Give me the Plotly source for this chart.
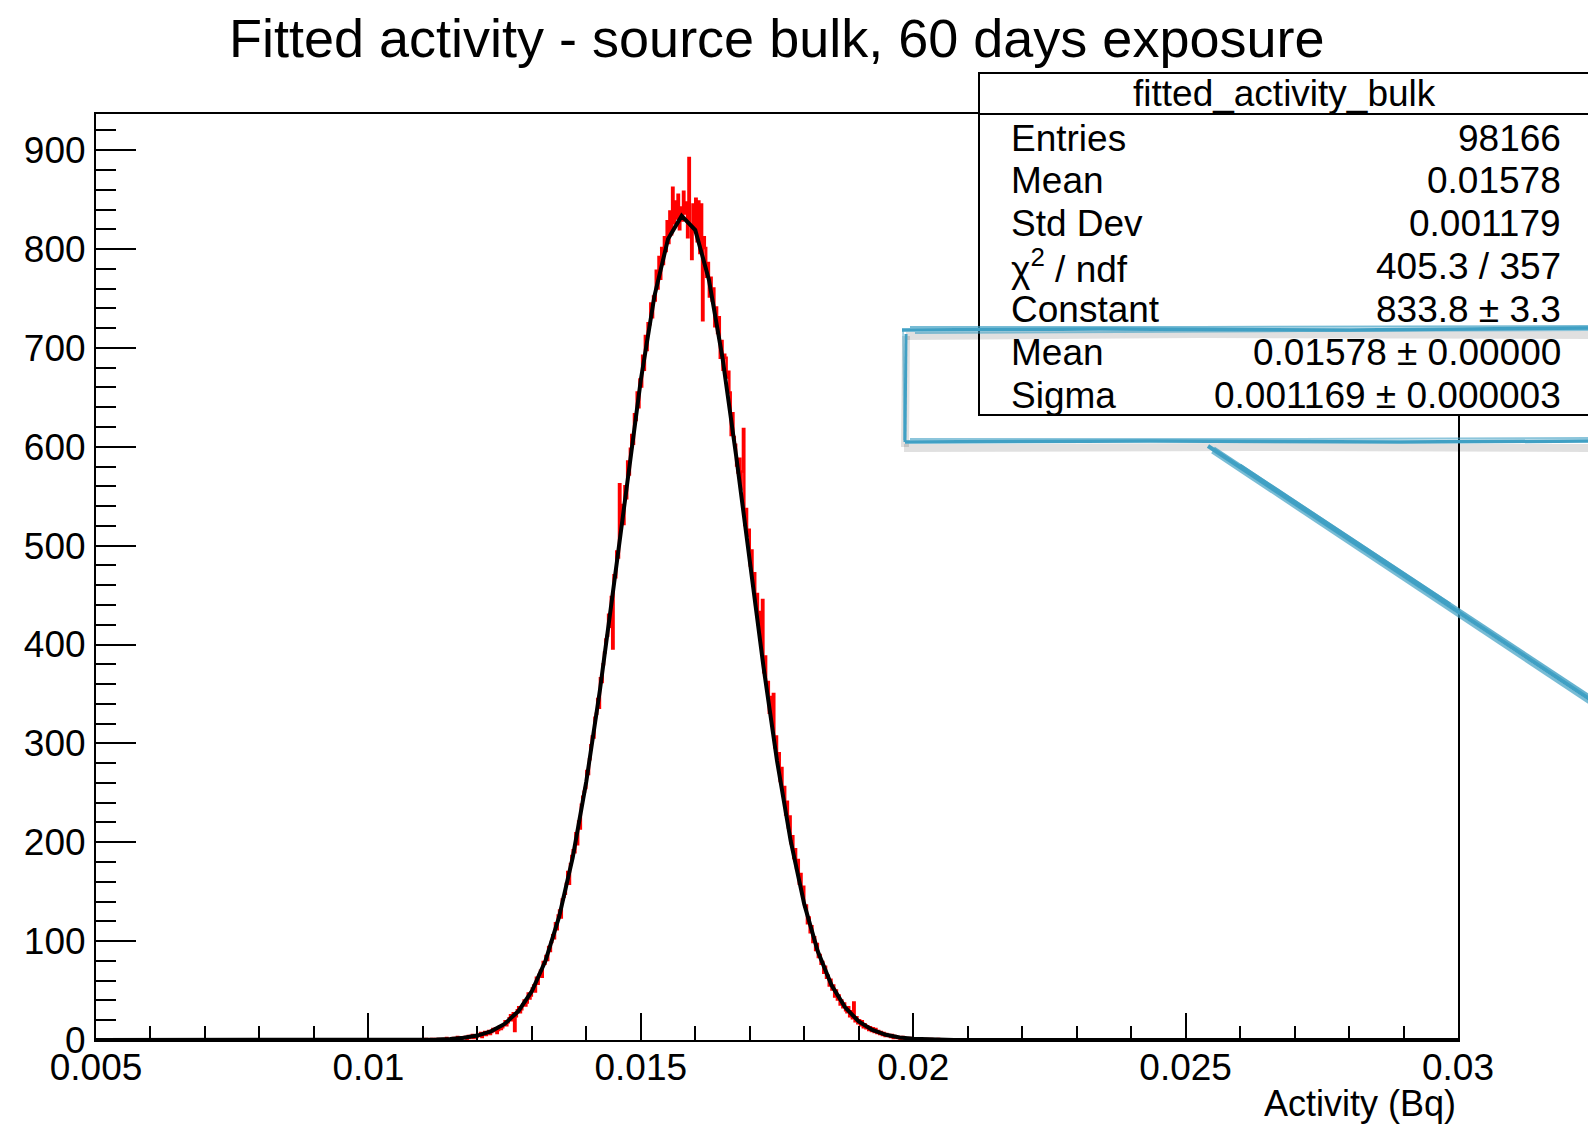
import numpy as np
import plotly.graph_objects as go

# ---- histogram definition (ROOT TH1 style: 1000 bins from 0.005 to 0.03) ----
n_bins = 1000
x_low, x_high = 0.005, 0.03
first_filled_bin = 240  # bins before this one are empty

bin_counts = [
    # bins 240-299
    0, 0, 1, 0, 0, 0, 1, 0, 0, 1,
    0, 1, 0, 0, 1, 0, 1, 2, 0, 1,
    1, 0, 2, 1, 1, 3, 0, 2, 1, 2,
    3, 2, 1, 4, 2, 3, 5, 2, 4, 3,
    5, 4, 7, 3, 6, 8, 5, 7, 9, 6,
    8, 11, 9, 12, 7, 10, 14, 11, 13, 15,
    # bins 300-339
    19, 15, 18, 22, 25, 20, 27, 9, 24, 30,
    33, 28, 31, 36, 40, 35, 38, 47, 42, 45,
    52, 55, 49, 63, 57, 66, 70, 64, 79, 77,
    85, 81, 94, 90, 99, 106, 103, 118, 112, 126,
    # bins 340-379
    131, 124, 142, 145, 148, 158, 170, 158, 178, 186,
    192, 190, 209, 198, 221, 214, 238, 246, 251, 255,
    272, 269, 284, 298, 307, 306, 326, 330, 345, 336,
    366, 362, 380, 392, 405, 409, 430, 418, 448, 396,
    # bins 380-446
    470, 468, 494, 488, 562, 517, 541, 522, 560, 548,
    585, 572, 598, 612, 603, 633, 627, 655, 640, 668,
    661, 692, 678, 712, 698, 725, 724, 745, 731, 752,
    748, 778, 760, 792, 770, 801, 785, 812, 798, 828,
    806, 838, 815, 862, 826, 848, 831, 855, 820, 842,
    829, 858, 836, 847, 812, 892, 824, 790, 845, 818,
    851, 808, 848, 796, 845, 728, 812,
    # bins 447-520
    801, 772, 786, 752, 771, 748, 760, 722, 741, 715,
    731, 690, 707, 678, 693, 690, 670, 676, 655, 612,
    634, 610, 602, 581, 574, 588, 557, 575, 618, 521,
    537, 510, 516, 480, 495, 460, 472, 440, 451, 420,
    433, 398, 445, 372, 388, 360, 362, 331, 347, 318,
    350, 296, 307, 284, 290, 262, 275, 249, 256, 228,
    241, 215, 226, 199, 206, 184, 193, 174, 182, 158,
    168, 149, 155, 135,
    # bins 521-620
    136, 118, 124, 109, 115, 99, 104, 91, 97, 84,
    86, 77, 79, 68, 74, 63, 65, 55, 61, 51,
    55, 44, 50, 41, 45, 36, 40, 33, 37, 30,
    28, 33, 24, 29, 22, 38, 19, 23, 17, 20,
    15, 19, 13, 16, 12, 14, 10, 13, 9, 12,
    8, 11, 7, 9, 6, 8, 5, 7, 4, 6,
    4, 5, 3, 5, 2, 4, 3, 2, 3, 1,
    2, 3, 1, 2, 1, 0, 2, 1, 0, 1,
    1, 0, 0, 1, 0, 1, 0, 0, 0, 1,
    0, 0, 1, 0, 0, 0, 0, 1, 0, 0,
]

# ---- gaussian fit result ----
fit_constant = 833.8
fit_mean = 0.01578
fit_sigma = 0.001169
fit_npx = 100  # ROOT's default number of points for drawing a TF1

# ---- statistics box ----
stats_title = "fitted_activity_bulk"
stats_labels = ["Entries", "Mean", "Std Dev", "χ<sup>2</sup> / ndf",
                "Constant", "Mean", "Sigma"]
stats_values = ["98166", "0.01578", "0.001179", "405.3 / 357",
                "833.8 ± 3.3", "0.01578 ± 0.00000", "0.001169 ± 0.000003"]

# ---- axes ----
x_tick_vals = [0.005, 0.01, 0.015, 0.02, 0.025, 0.03]
x_tick_text = ["0.005", "0.01", "0.015", "0.02", "0.025", "0.03"]
y_tick_vals = [0, 100, 200, 300, 400, 500, 600, 700, 800, 900]
y_tick_text = [str(v) for v in y_tick_vals]

title_text = "Fitted activity - source bulk, 60 days exposure"
x_title = "Activity (Bq)"

# ---------------------------------------------------------------------------
W, H = 1588, 1129
ML, MR, MT, MB = 96, 130, 114, 89
PW, PH = W - ML - MR, H - MT - MB
FONT = "Liberation Sans, Arial, Helvetica, sans-serif"


def px(xp):
    """pixel column -> paper x"""
    return (xp - ML) / PW


def py(yp):
    """pixel row -> paper y"""
    return (H - MB - yp) / PH


def path(points):
    return "M " + " L ".join(f"{px(a):.5f},{py(b):.5f}" for a, b in points)


counts = np.zeros(n_bins)
counts[first_filled_bin:first_filled_bin + len(bin_counts)] = bin_counts
edges = np.linspace(x_low, x_high, n_bins + 1)
step_y = np.append(counts, counts[-1])

fit_x = np.linspace(x_low, x_high, fit_npx + 1)
fit_y = fit_constant * np.exp(-0.5 * ((fit_x - fit_mean) / fit_sigma) ** 2)

y_max = 1.05 * counts.max()

fig = go.Figure()
fig.add_trace(go.Scatter(x=edges, y=step_y, mode="lines", line_shape="hv",
                         line=dict(color="#ff0000", width=2.5), hoverinfo="skip"))
fig.add_trace(go.Scatter(x=fit_x, y=fit_y, mode="lines",
                         line=dict(color="black", width=4), hoverinfo="skip"))

fig.update_xaxes(
    range=[x_low, x_high], showgrid=False, zeroline=False,
    showline=True, mirror=True, linecolor="black", linewidth=2,
    ticks="inside", ticklen=27, tickwidth=2, tickcolor="black",
    tickvals=x_tick_vals, ticktext=x_tick_text,
    tickfont=dict(family=FONT, size=37, color="black"),
    ticklabelstandoff=-6,
    minor=dict(ticks="inside", ticklen=14, tickwidth=2, tickcolor="black",
               dtick=0.001, tick0=x_low, showgrid=False),
)
fig.update_yaxes(
    range=[0, y_max], showgrid=False, zeroline=False,
    showline=True, mirror=True, linecolor="black", linewidth=2,
    ticks="inside", ticklen=40, tickwidth=2, tickcolor="black",
    tickvals=y_tick_vals, ticktext=y_tick_text,
    tickfont=dict(family=FONT, size=37, color="black"),
    ticklabelstandoff=1,
    minor=dict(ticks="inside", ticklen=20, tickwidth=2, tickcolor="black",
               dtick=20, tick0=0, showgrid=False),
)

shapes = []
# statistics box
box_l, box_t, box_r, box_b, box_sep = 979, 73, 1590, 415, 114
shapes.append(dict(type="rect", xref="paper", yref="paper",
                   x0=px(box_l), x1=px(box_r), y0=py(box_b), y1=py(box_t),
                   fillcolor="white", line=dict(color="black", width=2), layer="above"))
shapes.append(dict(type="line", xref="paper", yref="paper",
                   x0=px(box_l), x1=px(box_r), y0=py(box_sep), y1=py(box_sep),
                   line=dict(color="black", width=2), layer="above"))

# hand-drawn highlight (marker strokes with a soft drop shadow)
blue = "rgb(64,160,196)"
shadow = "rgba(0,0,0,0.12)"
shadow_strokes = [
    [(906, 336), (1200, 334), (1600, 335)],
    [(904, 448), (1250, 447), (1600, 448)],
    [(906, 336), (905, 447)],
]
for s in shadow_strokes:
    shapes.append(dict(type="path", xref="paper", yref="paper", path=path(s),
                       line=dict(color=shadow, width=8), layer="above"))
blue_strokes = [
    ([(902, 330), (1100, 329), (1350, 330), (1600, 328)], 3.5, 1.0),
    ([(910, 327), (1200, 327), (1600, 326)], 2, 0.7),
    ([(915, 333), (1300, 331), (1600, 330)], 2, 0.6),
    ([(906, 334), (905, 442)], 3, 1.0),
    ([(903, 329), (904, 440)], 1.5, 0.6),
    ([(905, 442), (1150, 441), (1400, 442), (1600, 441)], 3.5, 1.0),
    ([(910, 439), (1300, 439), (1600, 438)], 2, 0.6),
    ([(1208, 446), (1600, 706)], 4, 1.0),
    ([(1214, 448), (1600, 703)], 3, 0.8),
    ([(1212, 452), (1600, 710)], 3, 0.7),
    ([(1240, 465), (1450, 604)], 3, 0.9),
]
for pts, wdt, op in blue_strokes:
    shapes.append(dict(type="path", xref="paper", yref="paper", path=path(pts),
                       line=dict(color=blue, width=wdt), opacity=op, layer="above"))

annotations = []
annotations.append(dict(text=title_text, xref="paper", yref="paper",
                        x=px(777), y=py(38), xanchor="center", yanchor="middle",
                        showarrow=False, font=dict(family=FONT, size=54, color="black")))
annotations.append(dict(text=x_title, xref="paper", yref="paper",
                        x=px(1458), y=py(1103), xanchor="right", yanchor="middle",
                        showarrow=False, font=dict(family=FONT, size=36, color="black")))
annotations.append(dict(text=stats_title, xref="paper", yref="paper",
                        x=px(1284), y=py(93), xanchor="center", yanchor="middle",
                        showarrow=False, font=dict(family=FONT, size=37, color="black")))
row0, row_step = 138, 42.9
for k, (lab, val) in enumerate(zip(stats_labels, stats_values)):
    yc = row0 + k * row_step
    annotations.append(dict(text=lab, xref="paper", yref="paper",
                            x=px(1009), y=py(yc), xanchor="left", yanchor="middle",
                            showarrow=False, font=dict(family=FONT, size=37, color="black")))
    annotations.append(dict(text=val, xref="paper", yref="paper",
                            x=px(1563), y=py(yc), xanchor="right", yanchor="middle",
                            showarrow=False, font=dict(family=FONT, size=37, color="black")))

fig.update_layout(
    width=W, height=H, autosize=False,
    margin=dict(l=ML, r=MR, t=MT, b=MB),
    paper_bgcolor="white", plot_bgcolor="white",
    showlegend=False, shapes=shapes, annotations=annotations,
)

fig.write_html("out.html")
